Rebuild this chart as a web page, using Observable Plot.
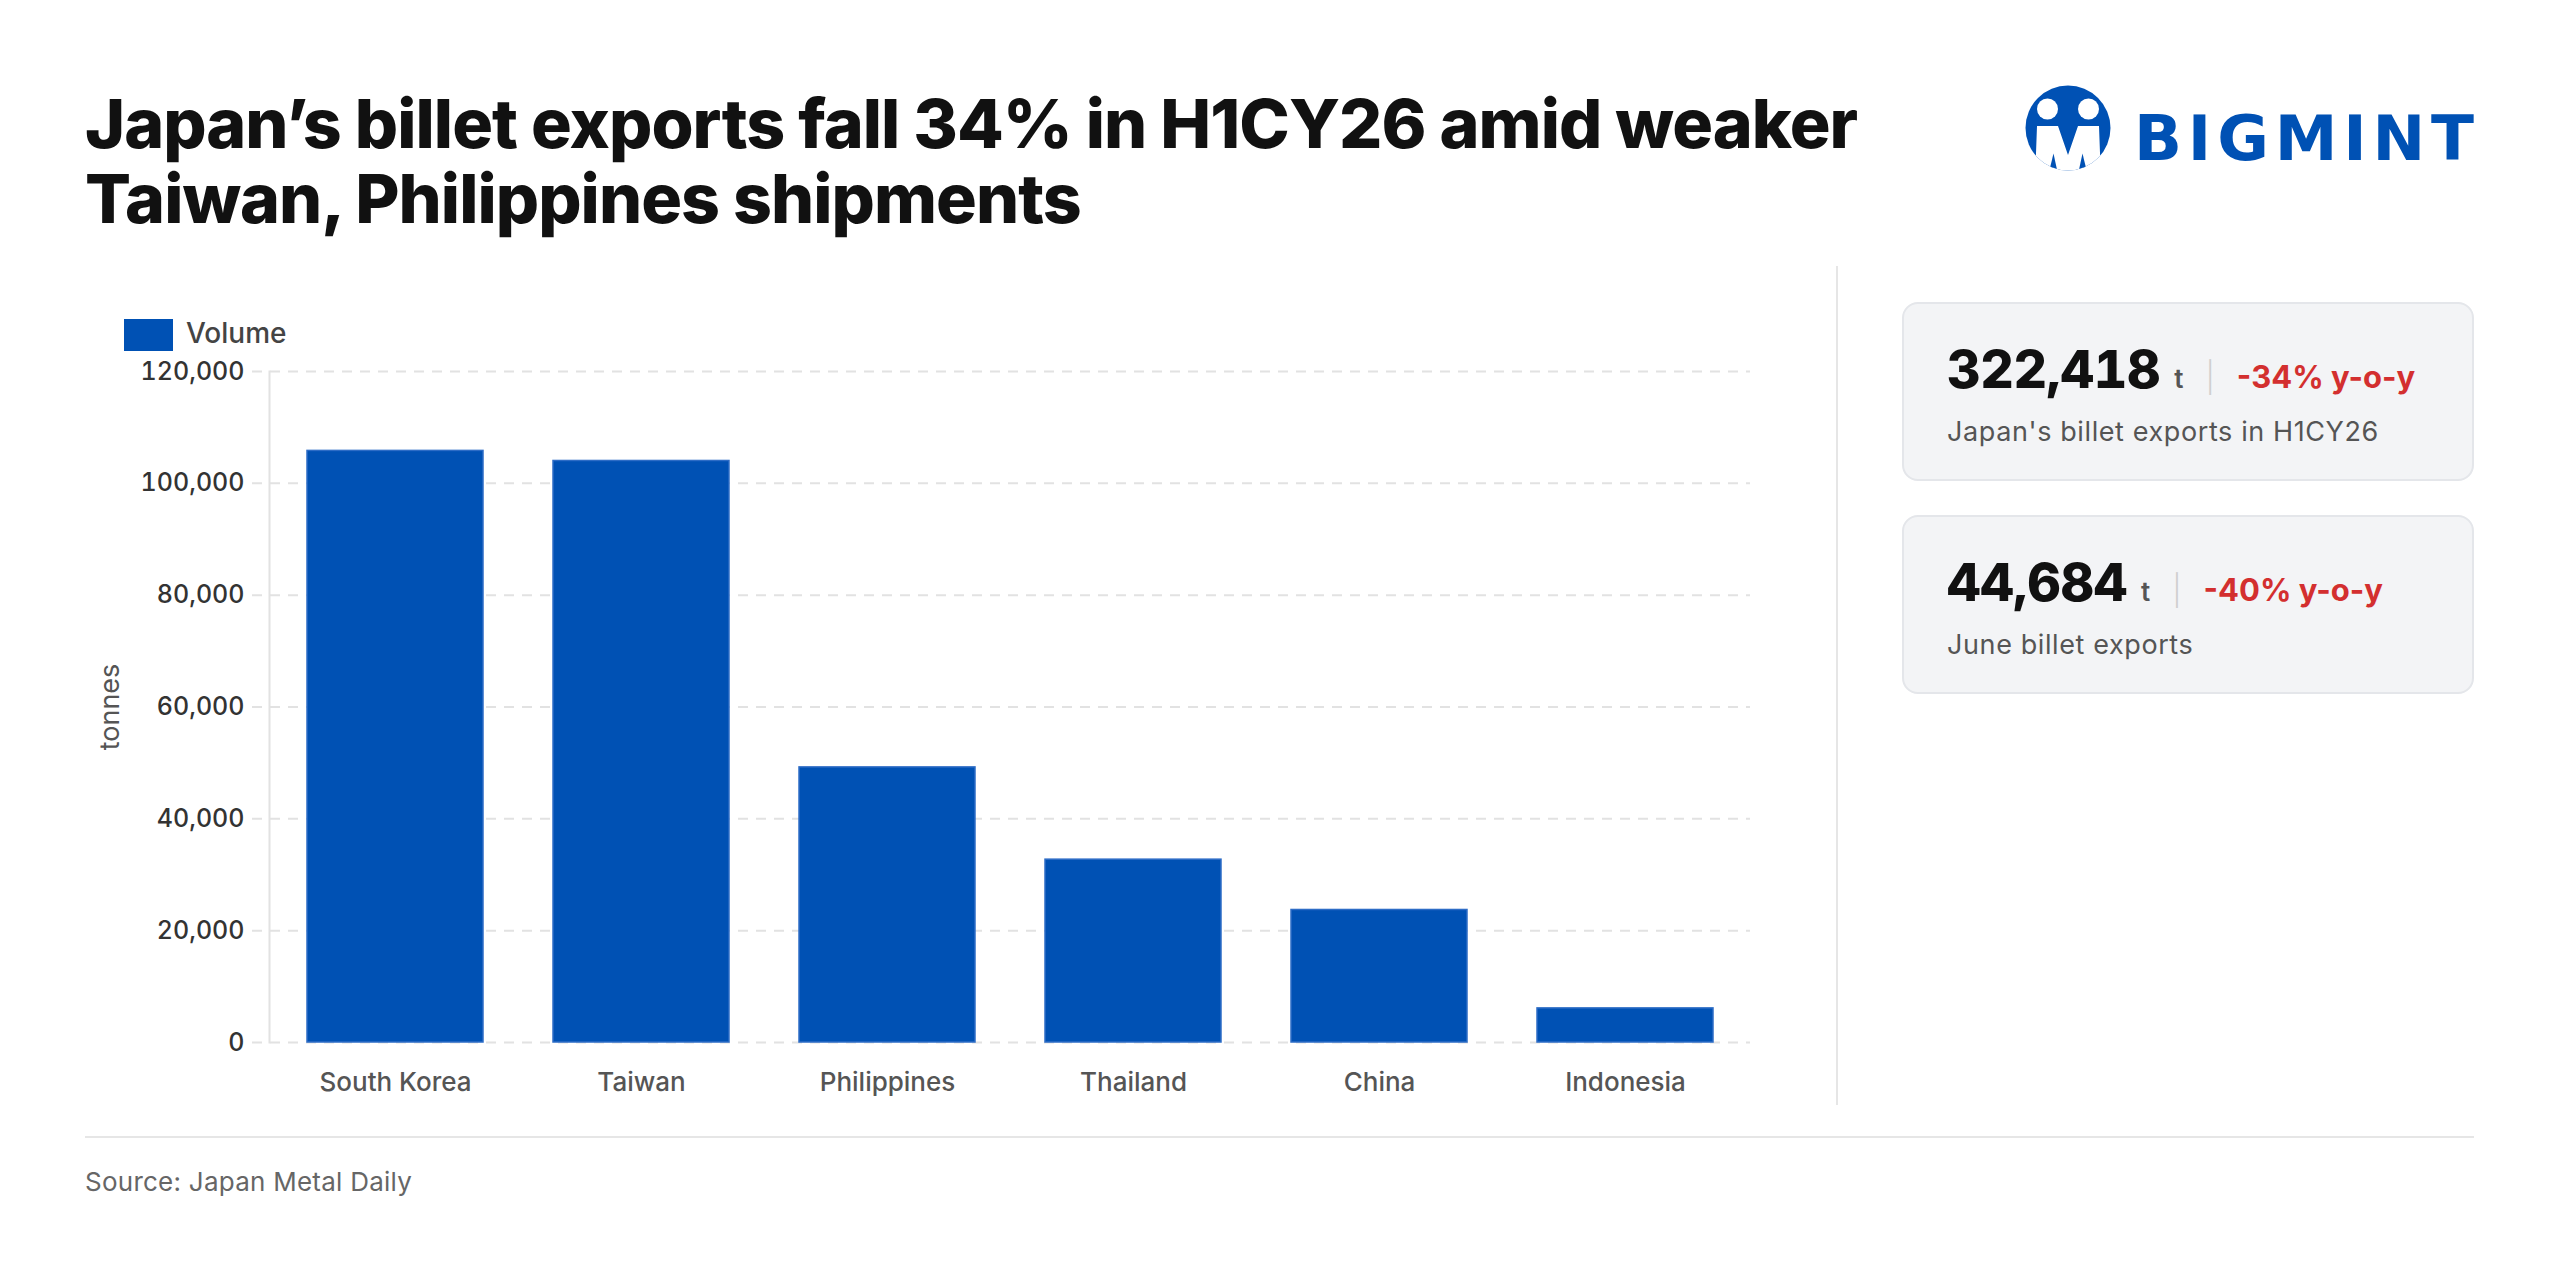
<!DOCTYPE html>
<html><head><meta charset="utf-8">
<script src="https://cdn.jsdelivr.net/npm/d3@7"></script>
<script src="https://cdn.jsdelivr.net/npm/@observablehq/plot@0.6"></script>
<style>
html,body{margin:0;padding:0;background:#fff;}
body{width:2560px;height:1280px;position:relative;overflow:hidden;font-family:Inter,"Noto Sans",sans-serif;}
.abs{position:absolute;}
#title{left:85px;top:86px;font-weight:800;font-size:68px;line-height:75px;color:#111;white-space:nowrap;}
.card{position:absolute;left:1902px;width:572px;height:179px;box-sizing:border-box;border:2px solid #e4e6ea;background:#f3f4f6;border-radius:16px;}
.row{position:absolute;left:43px;top:40px;font-size:52px;line-height:52px;white-space:nowrap;}
.num{font-weight:800;color:#111;letter-spacing:-0.3px;font-variant-numeric:tabular-nums;}
.unit{font-size:26px;font-weight:600;color:#555;margin-left:14px;}
.sep{font-size:30px;font-weight:300;color:#cfcfcf;margin-left:22px;}
.chg{font-size:31px;font-weight:700;color:#d32f2f;margin-left:22px;}
.sub{position:absolute;left:43px;top:114px;font-size:27px;line-height:27px;letter-spacing:0.6px;color:#555;white-space:nowrap;}
#source{left:85px;top:1169px;font-size:26px;line-height:26px;letter-spacing:0.25px;color:#666;}
#legend-sw{left:124px;top:319px;width:49px;height:32px;background:#0051b4;}
#legend-tx{left:186px;top:319px;font-size:28px;line-height:28px;font-weight:500;color:#444;}
#vdiv{left:1836px;top:266px;width:2px;height:839px;background:#e6e6e6;}
#hdiv{left:85px;top:1136px;width:2389px;height:2px;background:#e6e6e6;}
#chart{left:0;top:300px;}
</style>
</head><body>
<div id="title" class="abs"></div>
<svg class="abs" style="left:2000px;top:60px" width="500" height="140" viewBox="0 0 500 140">
  <defs><clipPath id="cc"><circle cx="68" cy="68" r="42.5"/></clipPath></defs>
  <circle cx="68" cy="68" r="42.5" fill="#0051b4"/>
  <g clip-path="url(#cc)">
    <polygon points="37,66 58,66 68,95 78,66 99,66 101,120 35,120" fill="#fff"/>
    <polygon points="53.5,93.5 49,112 57.5,112" fill="#0051b4"/>
    <polygon points="82.5,93.5 78.5,112 87,112" fill="#0051b4"/>
  </g>
  <circle cx="47.5" cy="49" r="10.5" fill="#fff"/>
  <circle cx="88.5" cy="49" r="10.5" fill="#fff"/>
  <text x="134" y="100" textLength="340" lengthAdjust="spacing" font-family="'DejaVu Sans',sans-serif" font-weight="bold" font-size="63" fill="#0051b4">BIGMINT</text>
</svg>
<div id="legend-sw" class="abs"></div>
<div id="legend-tx" class="abs">Volume</div>
<div id="chart" class="abs"></div>
<div id="vdiv" class="abs"></div>
<div id="hdiv" class="abs"></div>
<div id="cards"></div>
<div id="source" class="abs">Source: Japan Metal Daily</div>
<script>
// ---- data ----
const titleLines = ["Japan’s billet exports fall 34% in H1CY26 amid weaker", "Taiwan, Philippines shipments"];
const countries = ["South Korea", "Taiwan", "Philippines", "Thailand", "China", "Indonesia"];
const volumes = [105800, 104000, 49200, 32700, 23700, 6100];
const yTicks = [0, 20000, 40000, 60000, 80000, 100000, 120000];
const kpiValues = ["322,418", "44,684"];
const kpiUnits = ["t", "t"];
const kpiChanges = ["-34% y-o-y", "-40% y-o-y"];
const kpiLabels = ["Japan's billet exports in H1CY26", "June billet exports"];

// ---- title (fit first line to reference width) ----
const titleEl = document.getElementById("title");
const ctx = document.createElement("canvas").getContext("2d");
ctx.font = "800 68px Inter";
const w0 = ctx.measureText(titleLines[0]).width;
const ls = (1773 - w0) / (titleLines[0].length - 1);
titleEl.style.letterSpacing = ls.toFixed(2) + "px";
titleEl.innerHTML = titleLines.join("<br>");

// ---- cards ----
const cardsEl = document.getElementById("cards");
const cardTops = [302, 515];
kpiValues.forEach((v, i) => {
  const c = document.createElement("div");
  c.className = "card";
  c.style.top = cardTops[i] + "px";
  c.innerHTML = `<div class="row"><span class="num">${v}</span><span class="unit">${kpiUnits[i]}</span><span class="sep">|</span><span class="chg">${kpiChanges[i]}</span></div><div class="sub">${kpiLabels[i]}</div>`;
  cardsEl.appendChild(c);
});

// ---- chart ----
const data = countries.map((c, i) => ({country: c, volume: volumes[i]}));
const chart = Plot.plot({
  width: 1800, height: 800,
  marginLeft: 269, marginRight: 50, marginTop: 71, marginBottom: 58,
  style: {fontFamily: "Inter, sans-serif", fontSize: "25px", color: "#333", background: "transparent", overflow: "visible", fontVariantNumeric: "tabular-nums"},
  x: {type: "band", domain: countries, paddingInner: 0.286, paddingOuter: 0.143},
  y: {domain: [0, 120000]},
  marks: [
    Plot.ruleY(yTicks, {stroke: "#e2e2e2", strokeWidth: 2, strokeDasharray: "10,8", insetLeft: -17}),
    Plot.frame({anchor: "left", stroke: "#e2e2e2", strokeWidth: 2}),
    Plot.barY(data, {x: "country", y: "volume", fill: "#0051b4", stroke: "#2d6cc6", strokeWidth: 1.5}),
    Plot.axisY({ticks: yTicks, tickSize: 0, tickPadding: 25, tickFormat: d3.format(","), fill: "#333", fontSize: 25, fontWeight: 500, label: null}),
    Plot.axisY({ticks: [], tickSize: 0, label: "tonnes", labelAnchor: "center", labelOffset: 170, labelArrow: "none", fill: "#555", fontSize: 27}),
    Plot.axisX({tickSize: 0, tickPadding: 30, fill: "#555", fontSize: 26, fontWeight: 500, letterSpacing: "0.3px", label: null})
  ]
});
document.getElementById("chart").appendChild(chart);
</script>
</body></html>
